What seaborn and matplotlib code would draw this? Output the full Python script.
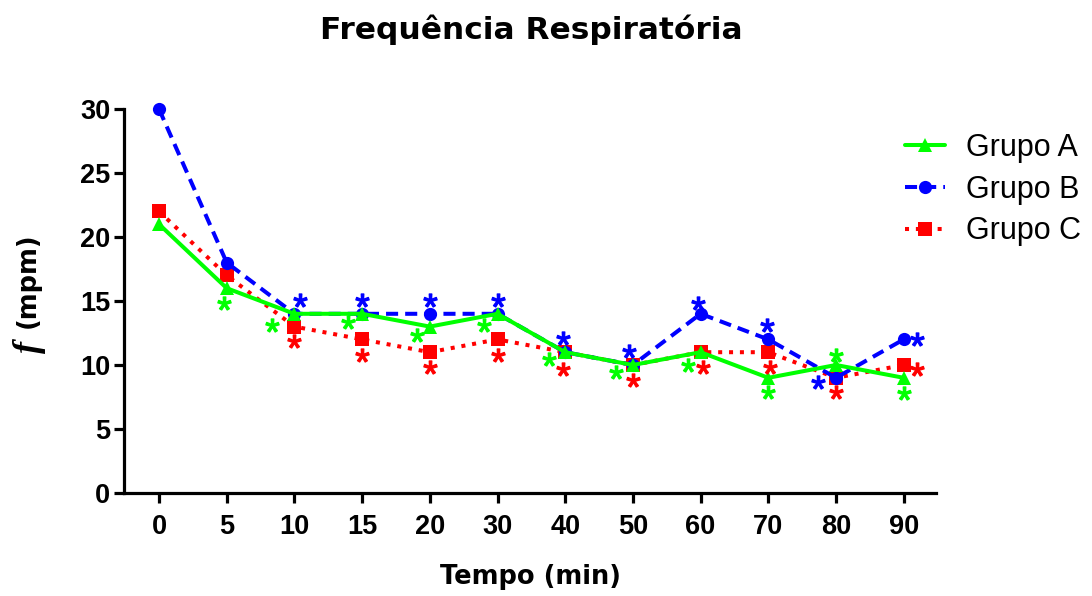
import matplotlib
matplotlib.use("Agg")
import numpy as np
import pandas as pd
import seaborn as sns
import matplotlib.pyplot as plt
from matplotlib.transforms import offset_copy
from matplotlib.lines import Line2D

# ---------------- data ----------------
tempo = ["0", "5", "10", "15", "20", "30", "40", "50", "60", "70", "80", "90"]
grupo_a = [21, 16, 14, 14, 13, 14, 11, 10, 11, 9, 10, 9]
grupo_b = [30, 18, 14, 14, 14, 14, 11, 10, 14, 12, 9, 12]
grupo_c = [22, 17, 13, 12, 11, 12, 11, 10, 11, 11, 9, 10]
grupos = ["Grupo A", "Grupo B", "Grupo C"]
y_ticks = [0, 5, 10, 15, 20, 25, 30]

# points flagged with "*" (index into tempo)
sig_a = [1, 2, 3, 4, 5, 6, 7, 8, 9, 10, 11]
sig_b = [2, 3, 4, 5, 6, 7, 8, 9, 10, 11]
sig_c = [2, 3, 4, 5, 6, 7, 8, 9, 10, 11]

# ---------------- style ----------------
colors = {"Grupo A": "#00FF00", "Grupo B": "#0000FF", "Grupo C": "#FF0000"}
markers = {"Grupo A": "^", "Grupo B": "o", "Grupo C": "s"}
dashes = {"Grupo A": "", "Grupo B": (3, 1.75), "Grupo C": (1, 1.7)}
# asterisk offsets in pixels (dx right, dy down) relative to the point
off_a = {1: (-3, 15), 2: (-22, 11), 3: (-14, 8), 4: (-13, 8), 5: (-14, 11),
         6: (-16, 7), 7: (-17, 7), 8: (-13, 13), 9: (0, 14), 10: (0, -10), 11: (0, 15)}
off_b = {2: (6, -14), 3: (0, -14), 4: (0, -14), 5: (0, -14), 6: (-2, -14),
         7: (-4, -14), 8: (-3, -11), 9: (-1, -14), 10: (-18, 4), 11: (13, 0)}
off_c = {2: (0, 14), 3: (0, 16), 4: (0, 15), 5: (0, 16), 6: (-2, 17),
         7: (0, 15), 8: (2, 15), 9: (2, 15), 10: (0, 14), 11: (13, 4)}

sns.set_style("ticks")
plt.rcParams["font.family"] = ["Liberation Sans", "DejaVu Sans"]
plt.rcParams["text.color"] = "black"
plt.rcParams["axes.labelcolor"] = "black"
plt.rcParams["xtick.color"] = "black"
plt.rcParams["ytick.color"] = "black"
plt.rcParams["mathtext.fontset"] = "custom"
plt.rcParams["mathtext.it"] = "Liberation Serif:italic:bold"
plt.rcParams["mathtext.rm"] = "Liberation Sans:bold"
plt.rcParams["mathtext.bf"] = "Liberation Sans:bold"
plt.rcParams["mathtext.sf"] = "Liberation Sans"

fig = plt.figure(figsize=(10.92, 5.96), dpi=100)
ax = fig.add_axes([124 / 1092, 1 - 493 / 596, (936 - 124) / 1092, (493 - 109) / 596])

idx = np.arange(len(tempo))
df = pd.DataFrame({
    "idx": np.concatenate([idx, idx, idx]),
    "f": grupo_a + grupo_b + grupo_c,
    "grupo": [grupos[0]] * len(tempo) + [grupos[1]] * len(tempo) + [grupos[2]] * len(tempo),
})

lw = 2.9
sns.lineplot(data=df, x="idx", y="f", hue="grupo", style="grupo",
             palette=colors, markers=markers, dashes=dashes,
             hue_order=grupos[::-1], style_order=grupos,
             linewidth=lw, markersize=9.5, markeredgewidth=0,
             legend=False, ax=ax, clip_on=False, zorder=3)

# significance asterisks
series = {"Grupo A": (grupo_a, sig_a, off_a),
          "Grupo B": (grupo_b, sig_b, off_b),
          "Grupo C": (grupo_c, sig_c, off_c)}
for g, (vals, sig, offs) in series.items():
    for i in sig:
        dx, dy = offs[i]
        tr = offset_copy(ax.transData, fig=fig, x=dx, y=-dy, units="dots")
        ax.plot([idx[i]], [vals[i]], linestyle="none", marker=r"$\mathsf{*}$",
                markersize=9.5, color=colors[g], transform=tr, clip_on=False, zorder=4)

ax.set_xlim(-0.517, 11.477)
ax.set_ylim(0, 30)
ax.set_xticks(idx)
ax.set_xticklabels(tempo)
ax.set_yticks(y_ticks)
ax.set_xlabel("")
ax.set_ylabel("")
for lab in ax.get_xticklabels() + ax.get_yticklabels():
    lab.set_fontweight("bold")
ax.tick_params(axis="both", labelsize=19.5, width=2.3, direction="out", colors="black")
ax.tick_params(axis="x", length=7, pad=8)
ax.tick_params(axis="y", length=7, pad=3)
for s in ["left", "bottom"]:
    ax.spines[s].set_linewidth(2.3)
    ax.spines[s].set_color("black")
sns.despine(ax=ax)

# titles
fig.text(531 / 1092, 1 - 30 / 596, "Frequência Respiratória", ha="center", va="center",
         fontsize=22.5, fontweight="bold", family=["DejaVu Sans"], color="black")
fig.text(530 / 1092, 1 - 577 / 596, "Tempo (min)", ha="center", va="center",
         fontsize=18.5, fontweight="bold", family=["DejaVu Sans"], color="black")
fig.text(28 / 1092, 1 - 280 / 596, "(mpm)", ha="center", va="center",
         rotation=90, fontsize=18.5, fontweight="bold", family=["DejaVu Sans"], color="black")
fig.text(29 / 1092, 1 - 347 / 596, "f", ha="center", va="center",
         rotation=90, fontsize=26, fontweight="bold", fontstyle="italic",
         family=["Liberation Serif"], color="black")

# legend
handles = []
for g in grupos:
    h = Line2D([0], [0], color=colors[g], marker=markers[g], markersize=9.5,
               markeredgewidth=0, linewidth=lw)
    if dashes[g]:
        h.set_dashes(dashes[g])
    handles.append(h)
leg = fig.legend(handles, grupos, loc="upper left", bbox_to_anchor=(905 / 1092, 1 - 133 / 596),
                 frameon=False, fontsize=22, handlelength=1.3, handletextpad=0.7,
                 labelspacing=0.38, borderpad=0, borderaxespad=0)
for t in leg.get_texts():
    t.set_color("black")

fig.savefig("out.png", dpi=100)
